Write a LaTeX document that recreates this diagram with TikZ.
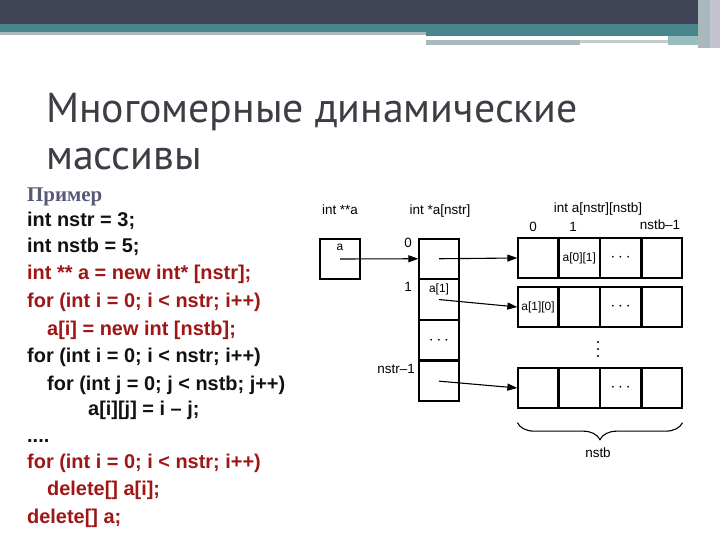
\documentclass[tikz,border=0pt]{standalone}
\usepackage{fontspec}
\setmainfont{Liberation Sans}
\newfontfamily\titlefont{PT Sans}
\newfontfamily\serifhead{Liberation Serif}
\usetikzlibrary{positioning, arrows.meta, decorations.pathreplacing}
\definecolor{barslate}{HTML}{3F4355}
\definecolor{barteal}{HTML}{46858A}
\definecolor{barline}{HTML}{A9B8BB}
\definecolor{barside}{HTML}{C4C4D0}
\definecolor{titleink}{HTML}{3D3D45}
\definecolor{headink}{HTML}{585878}
\definecolor{codered}{HTML}{9E1616}
\definecolor{codeink}{HTML}{111111}

\begin{document}
\begin{tikzpicture}[
  x=1bp, y=-1bp,
  code/.style={anchor=base west, inner sep=0pt, font=\fontsize{20}{24}\selectfont\bfseries},
  lbl/.style={inner sep=0pt, anchor=base, font=\fontsize{13.5}{16}\selectfont},
  small/.style={inner sep=0pt, font=\fontsize{12}{14}\selectfont},
  cell/.style={draw, line width=1.3bp, minimum width=40bp, minimum height=40bp, inner sep=0pt, font=\fontsize{12}{14}\selectfont},
  pcell/.style={cell, minimum height=39.5bp},
  arr/.style={-{Triangle[length=10bp, width=7bp]}, line width=1.1bp}
]
\useasboundingbox[fill=white] (0,0) rectangle (720,540);

% top bar
\fill[barslate] (0,0) rectangle (698,24);
\fill[barteal] (0,24) rectangle (698,32);
\fill[barline] (0,32) rectangle (426,35);
\fill[barteal] (426,32) rectangle (698,36);
\fill[barline] (426,40) rectangle (580,45);
\fill[barline!70] (580,40) rectangle (668,43);
\fill[barteal!55] (668,36) rectangle (698,45);
\fill[barline] (698,0) rectangle (710,48);
\fill[barside] (710,0) rectangle (720,48);

% title
\node[anchor=base west, inner sep=0pt, text=titleink, font=\fontsize{42}{48}\selectfont\titlefont] (title1) at (46,123) {Многомерные динамические};
\node[anchor=base west, inner sep=0pt, text=titleink, font=\fontsize{42}{48}\selectfont\titlefont] (title2) at (46,170) {массивы};

% code
\node[anchor=base west, inner sep=0pt, text=headink, font=\fontsize{21}{24}\selectfont\serifhead\bfseries] (example) at (27,202) {Пример};
\node[code, text=codeink] (code1) at (27,227) {int nstr = 3;};
\node[code, text=codeink] (code2) at (27,253) {int nstb = 5;};
\node[code, text=codered] (code3) at (27,280) {int ** a = new int* [nstr];};
\node[code, text=codered] (code4) at (27,307) {for (int i = 0; i < nstr; i++)};
\node[code, text=codered] (code5) at (47,335) {a[i] = new int [nstb];};
\node[code, text=codeink] (code6) at (27,362) {for (int i = 0; i < nstr; i++)};
\node[code, text=codeink] (code7) at (47,390) {for (int j = 0; j < nstb; j++)};
\node[code, text=codeink] (code8) at (88,415) {a[i][j] = i – j;};
\node[code, text=codeink] (code9) at (27,442) {....};
\node[code, text=codered] (code10) at (27,468) {for (int i = 0; i < nstr; i++)};
\node[code, text=codered] (code11) at (47,495) {delete[] a[i];};
\node[code, text=codered] (code12) at (27,523) {delete[] a;};

% pointer a
\node[lbl] (hdra) at (340,215) {int **a};
\node[cell] (pa) at (340,259) {};
\node[small, below=6bp of pa.north, anchor=north] (pan) {a};

% array of pointers
\node[lbl] (hdrcol) at (440,215) {int *a[nstr]};
\node[pcell] (c0) at (439,258.75) {};
\node[pcell, below=0pt of c0] (c1) {};
\node[pcell, below=0pt of c1] (c2) {\fontsize{18}{18}\selectfont$\cdots$};
\node[pcell, below=0pt of c2] (c3) {};
\node[small, below=4bp of c1.north, anchor=north] (c1n) {a[1]};
\node[lbl] (i0) at (408,248) {0};
\node[lbl] (i1) at (408,291) {1};
\node[lbl, anchor=base east] (ilast) at (415,373) {nstr–1};

% rows
\node[lbl] (hdrrow) at (598,213) {int a[nstr][nstb]};
\node[lbl] (j0) at (533,232) {0};
\node[lbl] (j1) at (573,232) {1};
\node[lbl] (jlast) at (660,230) {nstb–1};

\node[cell] (r0c0) at (538,258) {};
\node[cell, right=0pt of r0c0] (r0c1) {a[0][1]};
\node[cell, right=0pt of r0c1] (r0c2) {\fontsize{18}{18}\selectfont$\cdots$};
\node[cell, right=0pt of r0c2] (r0c3) {};

\node[cell] (r1c0) at (538,307) {a[1][0]};
\node[cell, right=0pt of r1c0] (r1c1) {};
\node[cell, right=0pt of r1c1] (r1c2) {\fontsize{18}{18}\selectfont$\cdots$};
\node[cell, right=0pt of r1c2] (r1c3) {};

\node[cell] (r2c0) at (538,388) {};
\node[cell, right=0pt of r2c0] (r2c1) {};
\node[cell, right=0pt of r2c1] (r2c2) {\fontsize{18}{18}\selectfont$\cdots$};
\node[cell, right=0pt of r2c2] (r2c3) {};

\foreach \y in {342,349,356}
  \fill (598,\y) circle (1.2bp);

\draw[decorate, decoration={brace, mirror, amplitude=17bp}, line width=1.1bp]
  ([yshift=-14bp]r2c0.south west) -- ([yshift=-14bp]r2c3.south east);
\node[lbl] (bracelbl) at (598,457) {nstb};

\draw[arr] (pa.center) -- (c0.west);
\draw[arr] (c0.center) -- (r0c0.west);
\draw[arr] (c1.center) -- (r1c0.west);
\draw[arr] (c3.center) -- (r2c0.west);
\end{tikzpicture}
\end{document}
